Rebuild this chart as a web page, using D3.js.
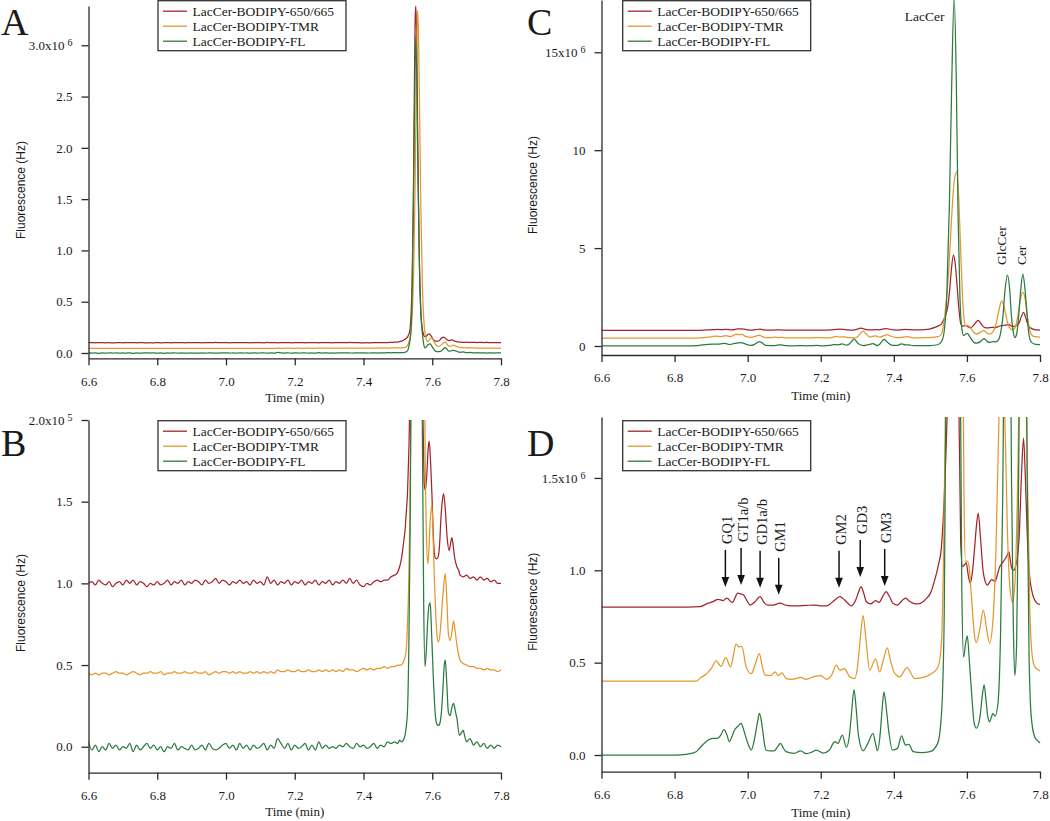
<!DOCTYPE html>
<html><head><meta charset="utf-8">
<script src="https://cdn.jsdelivr.net/npm/d3@7"></script>
<style>
body{margin:0;background:#fff}
svg{display:block}
text{font-family:"Liberation Serif","Times New Roman",serif;fill:#1a1a1a}
</style>
</head><body>
<svg id="chart" width="1050" height="821"></svg>
<script>
// ---------------- DATA ----------------
const seriesNames = ["LacCer-BODIPY-650/665", "LacCer-BODIPY-TMR", "LacCer-BODIPY-FL"];
const seriesColors = ["#a4232e", "#e4982c", "#2b7b3f"];
const xTickValues = [6.6, 6.8, 7.0, 7.2, 7.4, 7.6, 7.8];

// LacCer standards (panels A and B), fluorescence in units of 1e5 Hz
const stdRed = [
[6.60,1.00],[6.61,1.01],[6.62,0.99],[6.63,1.02],[6.64,1.00],[6.65,0.99],[6.66,1.01],[6.67,0.98],[6.68,1.00],[6.69,1.01],
[6.70,0.99],[6.71,1.02],[6.72,1.00],[6.73,1.02],[6.74,0.99],[6.75,1.01],[6.76,1.00],[6.77,0.98],[6.78,1.00],[6.79,0.99],
[6.80,1.01],[6.81,0.99],[6.82,1.00],[6.83,1.02],[6.84,0.99],[6.85,1.01],[6.86,1.00],[6.87,1.02],[6.88,0.99],[6.89,1.01],
[6.90,1.00],[6.91,1.02],[6.92,1.01],[6.93,0.99],[6.94,1.02],[6.95,1.00],[6.96,1.01],[6.97,1.03],[6.98,1.00],[6.99,1.02],
[7.00,1.01],[7.01,0.99],[7.02,1.01],[7.03,1.00],[7.04,1.02],[7.05,1.00],[7.06,1.01],[7.07,0.99],[7.08,1.02],[7.09,1.00],
[7.10,1.01],[7.11,0.99],[7.12,1.04],[7.13,1.00],[7.14,1.02],[7.15,0.99],[7.16,1.01],[7.17,1.00],[7.18,1.02],[7.19,0.99],
[7.20,1.01],[7.21,1.00],[7.22,1.02],[7.23,0.99],[7.24,1.01],[7.25,1.00],[7.26,1.02],[7.27,0.99],[7.28,1.01],[7.29,1.00],
[7.30,1.02],[7.31,0.99],[7.32,1.01],[7.33,1.00],[7.34,1.02],[7.35,1.00],[7.36,1.03],[7.37,1.00],[7.38,1.02],[7.39,0.99],
[7.40,0.98],[7.41,1.00],[7.42,0.99],[7.43,1.01],[7.44,1.02],[7.45,1.01],[7.46,1.02],[7.47,1.02],[7.48,1.04],[7.49,1.05],
[7.497,1.06],[7.505,1.10],[7.511,1.16],[7.516,1.24],[7.521,1.33],[7.525,1.45],[7.528,1.55],[7.531,1.75],[7.534,2.05],
[7.538,3.5],[7.542,8],[7.545,15],[7.548,26],[7.550,32],[7.552,33.9],[7.555,30],[7.558,20],[7.562,10],[7.566,4.5],
[7.570,2.6],[7.574,1.9],[7.577,1.6],[7.580,1.57],[7.584,1.66],[7.588,1.82],[7.591,1.87],[7.595,1.75],[7.599,1.55],
[7.603,1.30],[7.608,1.16],[7.613,1.15],[7.618,1.17],[7.622,1.26],[7.625,1.39],[7.629,1.50],[7.633,1.55],[7.638,1.45],
[7.643,1.29],[7.649,1.20],[7.653,1.24],[7.657,1.28],[7.661,1.23],[7.665,1.16],[7.672,1.10],[7.677,1.08],[7.681,1.05],
[7.69,1.04],[7.70,1.05],[7.71,1.03],[7.72,1.04],[7.73,1.02],[7.74,1.04],[7.75,1.02],[7.76,1.03],[7.77,1.01],[7.78,1.02],
[7.79,1.00],[7.80,1.00]
];
const stdOrange = [
[6.60,0.45],[6.61,0.44],[6.62,0.45],[6.63,0.44],[6.64,0.45],[6.65,0.45],[6.66,0.44],[6.67,0.45],[6.68,0.46],[6.69,0.45],
[6.70,0.45],[6.71,0.44],[6.72,0.45],[6.73,0.46],[6.74,0.45],[6.75,0.44],[6.76,0.45],[6.77,0.45],[6.78,0.46],[6.79,0.45],
[6.80,0.45],[6.81,0.46],[6.82,0.44],[6.83,0.45],[6.84,0.45],[6.85,0.46],[6.86,0.45],[6.87,0.45],[6.88,0.46],[6.89,0.45],
[6.90,0.45],[6.91,0.46],[6.92,0.45],[6.93,0.45],[6.94,0.46],[6.95,0.44],[6.96,0.45],[6.97,0.46],[6.98,0.45],[6.99,0.46],
[7.00,0.46],[7.01,0.45],[7.02,0.46],[7.03,0.45],[7.04,0.46],[7.05,0.45],[7.06,0.45],[7.07,0.46],[7.08,0.45],[7.09,0.46],
[7.10,0.45],[7.11,0.46],[7.12,0.45],[7.13,0.46],[7.14,0.45],[7.15,0.47],[7.16,0.46],[7.17,0.46],[7.18,0.47],[7.19,0.46],
[7.20,0.46],[7.21,0.47],[7.22,0.46],[7.23,0.46],[7.24,0.47],[7.25,0.46],[7.26,0.46],[7.27,0.47],[7.28,0.46],[7.29,0.47],
[7.30,0.46],[7.31,0.47],[7.32,0.46],[7.33,0.47],[7.34,0.46],[7.35,0.48],[7.36,0.47],[7.37,0.47],[7.38,0.46],[7.39,0.47],
[7.40,0.48],[7.41,0.47],[7.42,0.48],[7.43,0.47],[7.44,0.48],[7.45,0.48],[7.46,0.49],[7.47,0.48],[7.48,0.49],[7.49,0.49],
[7.50,0.50],[7.51,0.50],[7.516,0.52],[7.521,0.55],[7.525,0.61],[7.528,0.75],[7.531,0.95],[7.534,1.3],[7.538,2.1],
[7.542,4],[7.546,8],[7.550,16],[7.554,27],[7.557,33.4],[7.560,31],[7.563,24],[7.567,14],[7.571,7],[7.575,3.5],
[7.579,1.9],[7.583,1.3],[7.587,1.12],[7.590,1.20],[7.594,1.38],[7.599,1.48],[7.603,1.25],[7.606,1.04],[7.610,0.82],
[7.614,0.68],[7.618,0.64],[7.623,0.70],[7.628,0.84],[7.633,0.98],[7.638,1.06],[7.642,0.92],[7.647,0.69],[7.652,0.65],
[7.657,0.70],[7.662,0.77],[7.667,0.70],[7.672,0.62],[7.677,0.56],[7.681,0.53],[7.69,0.51],[7.70,0.50],[7.71,0.49],
[7.72,0.49],[7.73,0.48],[7.74,0.48],[7.75,0.47],[7.76,0.48],[7.77,0.47],[7.78,0.47],[7.79,0.46],[7.80,0.47]
];
const stdGreen = [
[6.60,0.03],[6.61,-0.02],[6.62,0.01],[6.63,-0.03],[6.64,0.00],[6.65,-0.02],[6.66,0.02],[6.67,-0.01],[6.68,0.01],[6.69,-0.02],
[6.70,0.00],[6.71,-0.01],[6.72,0.02],[6.73,-0.03],[6.74,0.01],[6.75,-0.02],[6.76,0.00],[6.77,0.02],[6.78,-0.01],[6.79,0.01],
[6.80,-0.02],[6.81,0.00],[6.82,-0.03],[6.83,0.00],[6.84,-0.01],[6.85,0.02],[6.86,-0.02],[6.87,0.00],[6.88,-0.01],[6.89,-0.02],
[6.90,0.01],[6.91,-0.02],[6.92,-0.01],[6.93,0.01],[6.94,-0.02],[6.95,0.02],[6.96,-0.01],[6.97,-0.02],[6.98,-0.01],[6.99,0.01],
[7.00,0.02],[7.01,-0.01],[7.02,0.01],[7.03,-0.02],[7.04,0.02],[7.05,-0.01],[7.06,0.01],[7.07,-0.02],[7.08,0.01],[7.09,-0.01],
[7.10,0.00],[7.11,0.02],[7.12,-0.02],[7.13,0.01],[7.14,-0.01],[7.15,0.05],[7.16,0.02],[7.17,-0.01],[7.18,0.02],[7.19,-0.02],
[7.20,0.01],[7.21,-0.01],[7.22,0.00],[7.23,0.02],[7.24,-0.02],[7.25,0.01],[7.26,-0.02],[7.27,0.03],[7.28,-0.01],[7.29,0.01],
[7.30,-0.01],[7.31,0.00],[7.32,-0.01],[7.33,0.01],[7.34,0.00],[7.35,0.02],[7.36,0.00],[7.37,-0.01],[7.38,0.02],[7.39,0.00],
[7.40,0.01],[7.41,-0.01],[7.42,0.00],[7.43,0.02],[7.44,-0.01],[7.45,0.01],[7.46,0.00],[7.47,0.03],[7.48,0.02],[7.49,0.03],
[7.50,0.02],[7.505,0.04],[7.51,0.03],[7.516,0.04],[7.523,0.10],[7.528,0.22],[7.532,0.63],[7.535,1.2],[7.538,2.1],
[7.541,5],[7.545,14],[7.549,25],[7.552,31],[7.555,27],[7.559,16],[7.563,8],[7.567,4],[7.571,2.0],[7.575,0.9],
[7.579,0.49],[7.583,0.60],[7.587,0.78],[7.591,0.87],[7.594,0.88],[7.598,0.70],[7.603,0.43],[7.608,0.22],[7.613,0.14],
[7.618,0.13],[7.623,0.15],[7.627,0.22],[7.631,0.35],[7.635,0.50],[7.638,0.53],[7.642,0.40],[7.647,0.21],[7.652,0.19],
[7.657,0.24],[7.662,0.265],[7.667,0.22],[7.672,0.17],[7.679,0.07],[7.686,0.09],[7.69,0.10],[7.695,0.06],[7.70,0.03],
[7.71,0.05],[7.72,0.01],[7.73,0.03],[7.74,0.00],[7.75,0.02],[7.76,-0.01],[7.77,0.01],[7.78,-0.01],[7.79,0.01],[7.80,0.00]
];

// Cell extract (panels C and D), fluorescence in units of 1e6 Hz
const cellRed = [
[6.60,0.80],[6.70,0.80],[6.80,0.80],[6.87,0.803],[6.887,0.818],[6.905,0.83],[6.919,0.843],[6.933,0.836],[6.943,0.849],
[6.958,0.826],[6.973,0.876],[6.981,0.872],[6.989,0.866],[6.998,0.835],[7.007,0.812],[7.02,0.83],[7.034,0.858],[7.045,0.825],
[7.055,0.812],[7.07,0.812],[7.088,0.822],[7.106,0.81],[7.133,0.807],[7.16,0.81],[7.18,0.812],[7.20,0.808],[7.216,0.807],
[7.23,0.825],[7.242,0.845],[7.252,0.858],[7.266,0.838],[7.284,0.807],[7.296,0.84],[7.304,0.885],[7.31,0.912],[7.317,0.88],
[7.325,0.83],[7.337,0.818],[7.35,0.836],[7.36,0.826],[7.37,0.86],[7.379,0.885],[7.388,0.858],[7.398,0.82],[7.41,0.812],
[7.422,0.835],[7.432,0.849],[7.443,0.832],[7.455,0.82],[7.467,0.818],[7.48,0.83],[7.49,0.849],[7.50,0.875],[7.512,0.948],
[7.522,1.03],[7.53,1.12],[7.537,1.35],[7.542,1.6],[7.547,1.95],[7.552,2.7],[7.557,3.8],[7.563,4.64],[7.568,4.2],[7.573,3.1],
[7.578,1.9],[7.583,1.15],[7.588,1.02],[7.593,1.03],[7.598,1.04],[7.604,0.97],[7.609,0.93],[7.615,0.99],[7.621,1.12],
[7.626,1.24],[7.631,1.31],[7.637,1.18],[7.644,1.00],[7.65,0.94],[7.656,0.92],[7.662,0.935],[7.668,0.95],[7.677,0.94],
[7.684,0.98],[7.69,1.02],[7.697,1.04],[7.704,1.06],[7.71,1.08],[7.715,1.10],[7.719,1.05],[7.723,1.01],[7.728,1.00],
[7.733,1.02],[7.738,1.07],[7.743,1.18],[7.749,1.50],[7.755,1.715],[7.76,1.50],[7.765,1.20],[7.771,0.98],[7.778,0.885],
[7.785,0.84],[7.792,0.822],[7.80,0.815]
];
const cellOrange = [
[6.60,0.40],[6.70,0.40],[6.80,0.40],[6.86,0.40],[6.872,0.42],[6.886,0.437],[6.90,0.468],[6.914,0.51],[6.927,0.48],
[6.94,0.527],[6.953,0.477],[6.961,0.54],[6.968,0.60],[6.977,0.585],[6.984,0.588],[6.996,0.477],[7.01,0.44],[7.022,0.50],
[7.032,0.549],[7.04,0.48],[7.048,0.432],[7.064,0.43],[7.075,0.45],[7.084,0.43],[7.094,0.444],[7.105,0.414],[7.119,0.41],
[7.132,0.413],[7.145,0.42],[7.16,0.41],[7.183,0.426],[7.201,0.43],[7.215,0.41],[7.229,0.43],[7.243,0.486],[7.252,0.459],
[7.265,0.468],[7.279,0.423],[7.293,0.414],[7.302,0.50],[7.309,0.65],[7.316,0.755],[7.323,0.64],[7.334,0.459],[7.35,0.52],
[7.361,0.45],[7.372,0.52],[7.382,0.58],[7.392,0.50],[7.403,0.44],[7.416,0.423],[7.436,0.473],[7.457,0.414],[7.485,0.423],
[7.503,0.44],[7.521,0.477],[7.53,0.60],[7.537,1.2],[7.543,2.2],[7.55,3.8],[7.558,6.5],[7.565,8.4],[7.572,8.89],[7.578,7.4],
[7.583,4.8],[7.588,2.5],[7.592,1.4],[7.596,1.05],[7.601,1.05],[7.606,1.02],[7.613,0.84],[7.62,0.66],[7.626,0.61],
[7.635,0.68],[7.645,0.785],[7.654,0.68],[7.662,0.605],[7.672,0.75],[7.68,1.15],[7.688,1.85],[7.695,2.30],[7.703,1.90],
[7.711,1.20],[7.718,0.90],[7.725,0.825],[7.732,0.95],[7.74,1.60],[7.747,2.45],[7.753,2.74],[7.759,2.45],[7.765,1.60],
[7.772,0.80],[7.778,0.55],[7.785,0.48],[7.792,0.465],[7.80,0.455]
];
const cellGreen = [
[6.60,0.0],[6.70,0.0],[6.80,0.0],[6.836,0.005],[6.859,0.018],[6.872,0.045],[6.891,0.08],[6.904,0.09],[6.918,0.09],
[6.927,0.11],[6.935,0.138],[6.943,0.11],[6.95,0.072],[6.957,0.10],[6.964,0.135],[6.973,0.155],[6.982,0.171],[6.99,0.13],
[6.996,0.09],[7.003,0.05],[7.01,0.027],[7.018,0.08],[7.023,0.135],[7.028,0.19],[7.032,0.225],[7.037,0.19],[7.041,0.135],
[7.046,0.06],[7.05,0.027],[7.062,0.022],[7.073,0.023],[7.082,0.045],[7.09,0.063],[7.097,0.04],[7.105,0.018],[7.128,0.009],
[7.145,0.023],[7.16,0.008],[7.175,0.015],[7.188,0.027],[7.206,0.01],[7.224,0.027],[7.233,0.06],[7.238,0.072],[7.247,0.063],
[7.259,0.108],[7.27,0.041],[7.278,0.10],[7.284,0.22],[7.291,0.354],[7.297,0.25],[7.303,0.11],[7.316,0.023],[7.329,0.063],
[7.343,0.117],[7.35,0.06],[7.355,0.023],[7.362,0.10],[7.368,0.25],[7.373,0.342],[7.379,0.26],[7.386,0.13],[7.396,0.027],
[7.41,0.036],[7.421,0.103],[7.432,0.054],[7.441,0.058],[7.453,0.018],[7.476,0.013],[7.499,0.018],[7.52,0.063],[7.531,0.243],
[7.538,0.78],[7.545,2.6],[7.552,7.2],[7.558,13.0],[7.565,17.8],[7.571,13.5],[7.576,6.5],[7.581,2.4],[7.586,0.90],
[7.591,0.53],[7.596,0.60],[7.601,0.645],[7.607,0.50],[7.613,0.33],[7.62,0.17],[7.626,0.145],[7.636,0.21],[7.642,0.32],
[7.647,0.38],[7.652,0.30],[7.657,0.21],[7.662,0.18],[7.667,0.205],[7.671,0.225],[7.677,0.21],[7.685,0.28],[7.692,0.65],
[7.698,1.40],[7.704,2.80],[7.711,3.62],[7.717,2.90],[7.722,1.50],[7.727,0.70],[7.731,0.43],[7.736,0.60],[7.741,1.40],
[7.747,2.80],[7.753,3.67],[7.759,2.90],[7.765,1.50],[7.77,0.55],[7.774,0.27],[7.778,0.17],[7.785,0.10],[7.792,0.08],[7.80,0.065]
];

// Panel C peak labels
const cPeakLabels = ["LacCer", "GlcCer", "Cer"];
const cPeakTimes = [7.484, 7.695, 7.750];
const cPeakValues = [16.85, 4.13, 4.13];

// Panel D ganglioside arrows
const gangliosideNames = ["GQ1", "GT1a/b", "GD1a/b", "GM1", "GM2", "GD3", "GM3"];
const gangliosideTimes = [6.939, 6.982, 7.034, 7.085, 7.250, 7.308, 7.375];
const gangliosideTips = [0.910, 0.921, 0.905, 0.867, 0.905, 0.964, 0.915];

// y tick values / labels
const aTicks = [0, 5, 10, 15, 20, 25, 30];
const aTickLabels = ["0.0", "0.5", "1.0", "1.5", "2.0", "2.5", "3.0x10"];
const bTicks = [0, 0.5, 1.0, 1.5, 2.0];
const bTickLabels = ["0.0", "0.5", "1.0", "1.5", "2.0x10"];
const cTicks = [0, 5, 10, 15];
const cTickLabels = ["0", "5", "10", "15x10"];
const dTicks = [0, 0.5, 1.0, 1.5];
const dTickLabels = ["0.0", "0.5", "1.0", "1.5x10"];

// ---------------- LAYOUT ----------------
const panels = [
  {id:"A", data:[stdRed, stdOrange, stdGreen], x0:88.5, x1:501, yTop:6, yBot:358.3, yLo:-0.517, yHi:33.83,
   ticks:aTicks, labels:aTickLabels, exp:"6", letter:[1,35], legend:[158,0.7], ylab:[21,190], xlab:401.5},
  {id:"B", data:[stdRed, stdOrange, stdGreen], x0:88.5, x1:501, yTop:420, yBot:772.7, yLo:-0.159, yHi:2.0,
   ticks:bTicks, labels:bTickLabels, exp:"5", letter:[1,456], legend:[158,420.7], ylab:[21,603], xlab:816},
  {id:"C", data:[cellRed, cellOrange, cellGreen], x0:601.5, x1:1040, yTop:0, yBot:355, yLo:-0.46, yHi:17.67,
   ticks:cTicks, labels:cTickLabels, exp:"6", letter:[527,35], legend:[622.7,0.7], ylab:[533,185], xlab:399.5},
  {id:"D", data:[cellRed, cellOrange, cellGreen], x0:601.5, x1:1040, yTop:417, yBot:771.7, yLo:-0.0904, yHi:1.830,
   ticks:dTicks, labels:dTickLabels, exp:"6", letter:[527,456], legend:[622.7,420.7], ylab:[533,601.7], xlab:817}
];

const svg = d3.select("#chart");
const AXIS = "#2a2a2a";

panels.forEach(p => {
  const g = svg.append("g");
  const x = d3.scaleLinear().domain([6.6, 7.8]).range([p.x0, p.x1]);
  const y = d3.scaleLinear().domain([p.yLo, p.yHi]).range([p.yBot, p.yTop]);

  const clipId = "clip" + p.id;
  svg.append("clipPath").attr("id", clipId).append("rect")
    .attr("x", p.x0).attr("y", p.yTop).attr("width", p.x1 - p.x0 + 2).attr("height", p.yBot - p.yTop);

  const line = d3.line().x(d => x(d[0])).y(d => y(d[1])).curve(d3.curveMonotoneX);
  const lg = g.append("g").attr("clip-path", `url(#${clipId})`);
  p.data.forEach((s, i) => {
    lg.append("path").datum(s).attr("d", line)
      .attr("fill", "none").attr("stroke", seriesColors[i]).attr("stroke-width", 1.25)
      .attr("stroke-linejoin", "round");
  });

  // x axis
  const xa = g.append("g").attr("transform", `translate(0,${p.yBot})`)
    .call(d3.axisBottom(x).tickValues(xTickValues).tickFormat(d3.format(".1f"))
      .tickSize(7).tickPadding(11).tickSizeOuter(0));
  // y axis
  const ya = g.append("g").attr("transform", `translate(${p.x0},0)`)
    .call(d3.axisLeft(y).tickValues(p.ticks).tickFormat((d, i) => p.labels[i])
      .tickSize(7).tickPadding(9).tickSizeOuter(0));
  [xa, ya].forEach(a => {
    a.select(".domain").attr("stroke", AXIS).attr("stroke-width", 1.3);
    a.selectAll(".tick line").attr("stroke", AXIS).attr("stroke-width", 1.3);
    a.selectAll(".tick text").attr("font-size", 13)
      .attr("font-family", '"Liberation Serif","Times New Roman",serif').attr("fill", "#1a1a1a");
  });
  ya.selectAll(".tick text").each(function(d, i) {
    if (i === p.ticks.length - 1) {
      d3.select(this).append("tspan").attr("dx", 3).attr("dy", -4).attr("font-size", 10).text(p.exp);
    }
  });

  // axis titles
  g.append("text").attr("x", (p.x0 + p.x1) / 2).attr("y", p.xlab)
    .attr("text-anchor", "middle").attr("font-size", 13).text("Time (min)");
  g.append("text").attr("transform", `translate(${p.ylab[0]},${p.ylab[1]}) rotate(-90)`)
    .attr("text-anchor", "middle").attr("dominant-baseline", "central")
    .style("font-family", '"Liberation Sans",Arial,sans-serif').attr("font-size", 12).text("Fluorescence (Hz)");

  // panel letter
  g.append("text").attr("x", p.letter[0]).attr("y", p.letter[1]).attr("font-size", 38).text(p.id);

  // legend
  const L = g.append("g").attr("transform", `translate(${p.legend[0]},${p.legend[1]})`);
  L.append("rect").attr("width", 188).attr("height", 50).attr("fill", "#fff")
    .attr("stroke", "#333").attr("stroke-width", 1.3);
  seriesNames.forEach((n, i) => {
    const cy = 10.5 + i * 15;
    L.append("line").attr("x1", 5).attr("x2", 29).attr("y1", cy).attr("y2", cy)
      .attr("stroke", seriesColors[i]).attr("stroke-width", 1.3);
    L.append("text").attr("x", 34.5).attr("y", cy + 4.6).attr("font-size", 13.5).text(n);
  });

  // annotations
  if (p.id === "C") {
    cPeakLabels.forEach((lab, i) => {
      const tx = x(cPeakTimes[i]), ty = y(cPeakValues[i]);
      if (i === 0) {
        g.append("text").attr("x", tx).attr("y", ty + 4.5).attr("text-anchor", "middle")
          .attr("font-size", 13.5).text(lab);
      } else {
        g.append("text").attr("transform", `translate(${tx + 4.5},${ty}) rotate(-90)`)
          .attr("text-anchor", "start").attr("font-size", 13.5).text(lab);
      }
    });
  }
  if (p.id === "D") {
    gangliosideNames.forEach((lab, i) => {
      const ax = x(gangliosideTimes[i]), tip = y(gangliosideTips[i]);
      const top = tip - 37;
      g.append("line").attr("x1", ax).attr("x2", ax).attr("y1", top).attr("y2", tip - 8)
        .attr("stroke", "#111").attr("stroke-width", 1.5);
      g.append("path").attr("d", `M${ax - 3.8},${tip - 10} L${ax + 3.8},${tip - 10} L${ax},${tip} Z`)
        .attr("fill", "#111");
      g.append("text").attr("transform", `translate(${ax + 6.5},${top - 6}) rotate(-90)`)
        .attr("text-anchor", "start").attr("font-size", 14.5).text(lab);
    });
  }
});
</script>
</body></html>
